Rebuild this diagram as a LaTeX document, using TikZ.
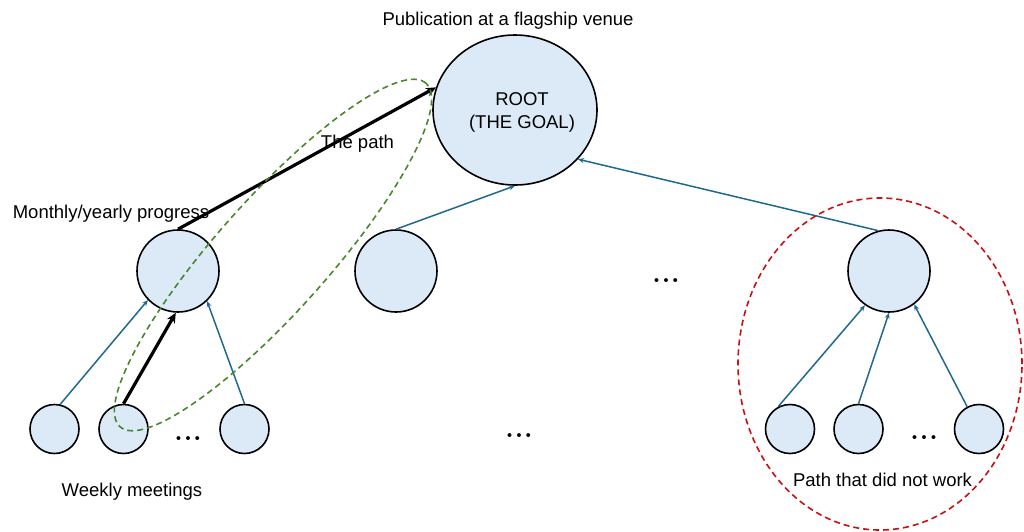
\documentclass[tikz,border=0pt]{standalone}
\usepackage{fontspec}
\setmainfont{Liberation Sans}
\newfontfamily\dotfont{lmroman10-bold}[Extension=.otf]
\usetikzlibrary{shapes.geometric,arrows.meta}
\definecolor{nodefill}{RGB}{220,233,246}
\definecolor{linkblue}{RGB}{31,105,145}
\definecolor{pathgreen}{RGB}{72,135,45}
\definecolor{failred}{RGB}{200,16,16}
\newcommand{\mydots}{.\kern1.5pt.\kern1.5pt.}
\tikzset{
  bubble/.style={circle,draw=black,line width=1.6pt,fill=nodefill,inner sep=0pt},
  midbub/.style={bubble,minimum size=82pt},
  leafbub/.style={bubble,minimum size=49pt},
  label/.style={inner sep=0pt,anchor=base,font=\fontsize{18.5pt}{22pt}\selectfont},
  dots/.style={inner sep=0pt,anchor=base,font=\fontsize{25pt}{27pt}\dotfont},
  link/.style={draw=linkblue,line width=1.5pt,-{Stealth[length=6pt,width=5pt]}},
  mainpath/.style={draw=black,line width=3.2pt,-{Stealth[length=10pt,width=9pt]}},
  greenloop/.style={draw=pathgreen,line width=1.6pt,dash pattern=on 6pt off 4pt},
  redloop/.style={draw=failred,line width=1.6pt,dash pattern=on 6pt off 4pt}
}
\begin{document}
\begin{tikzpicture}[x=1pt,y=-1pt]
\useasboundingbox (0,0) rectangle (1024,531);
% root
\node[ellipse,draw=black,line width=1.6pt,fill=nodefill,inner sep=0pt,minimum width=164pt,minimum height=150pt] (root) at (515,110) {};
\node[label] (rootA) at (522,105) {ROOT};
\node[label] (rootB) at (522,128) {(THE GOAL)};
\node[label] (pub) at (508,25) {Publication at a flagship venue};
% middle level
\node[midbub] (m1) at (178,271) {};
\node[midbub] (m2) at (396,271) {};
\node[midbub] (m3) at (889,271) {};
% leaves
\node[leafbub] (l1) at (54.5,429) {};
\node[leafbub] (l2) at (123.5,429) {};
\node[leafbub] (l3) at (244.5,429) {};
\node[leafbub] (r1) at (790,429) {};
\node[leafbub] (r2) at (858.5,429) {};
\node[leafbub] (r3) at (979,429) {};
% dots
\node[dots] (d1) at (188,440) {\mydots};
\node[dots] (d2) at (519,437) {\mydots};
\node[dots] (d3) at (666,282) {\mydots};
\node[dots] (d4) at (924,439) {\mydots};
% labels
\node[label] (monthly) at (111,218) {Monthly/yearly progress};
\node[label] (weekly) at (132,496) {Weekly meetings};
\node[label] (thepath) at (357.5,148) {The path};
\node[label] (fail) at (882.5,486) {Path that did not work};
% connectors
\draw[link] (l1.77) -- (m1.-136);
\draw[link] (l3.north) -- (m1.-46);
\draw[link] (m2.north) -- (root.south);
\draw[link] (m3.105) -- (root.-38);
\draw[link] (r1.118) -- (m3.-125);
\draw[link] (r2.north) -- (m3.south);
\draw[link] (r3.118) -- (m3.-53);
\draw[mainpath] (m1.north) -- (root.164);
\draw[mainpath] (l2.north) -- (m1.-93);
% highlight loops
\node[ellipse,greenloop,inner sep=0pt,minimum width=460pt,minimum height=112pt,rotate=48.3] (greenring) at (273,255) {};
\node[ellipse,redloop,inner sep=0pt,minimum width=284pt,minimum height=332pt] (redring) at (880,364) {};
\end{tikzpicture}
\end{document}
